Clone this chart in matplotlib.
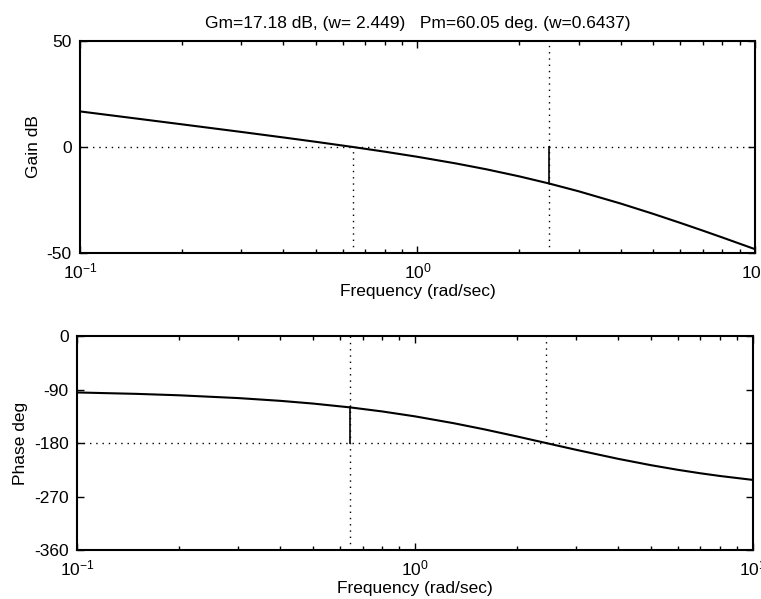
import matplotlib
matplotlib.use("Agg")
import matplotlib.pyplot as plt
from matplotlib.ticker import LogLocator, FixedLocator

#-------------------------------------------

freq = [0.1, 0.15, 0.2, 0.3, 0.4, 0.5, 0.6437, 0.8, 1.0, 1.3, 1.6, 2.0,
        2.449, 3.0, 4.0, 5.0, 6.0, 7.0, 8.0, 10.0]
gain_db = [16.78, 13.24, 10.71, 7.12, 4.51, 2.44, 0.0, -2.21, -4.63, -7.76,
           -10.52, -13.83, -17.18, -20.87, -26.67, -31.56, -35.76, -39.42,
           -42.66, -48.18]
phase_deg = [-94.77, -97.15, -99.52, -104.24, -108.90, -113.50, -119.95,
             -126.73, -135.0, -146.45, -156.73, -168.69, -180.0, -191.31,
             -206.57, -217.24, -225.0, -230.85, -235.40, -241.99]

gm_db = 17.18
gm_freq = 2.449
pm_deg = 60.05
pm_freq = 0.6437

gain_ticks = [-50, 0, 50]
phase_ticks = [-360, -270, -180, -90, 0]

titre = "Gm=17.18 dB, (w= 2.449)   Pm=60.05 deg. (w=0.6437)"

plt.rcParams['font.family'] = ['Liberation Sans', 'DejaVu Sans']
plt.rcParams['mathtext.fontset'] = 'custom'
plt.rcParams['mathtext.rm'] = 'Liberation Sans'
plt.rcParams['mathtext.it'] = 'Liberation Sans'
plt.rcParams['mathtext.default'] = 'regular'
plt.rcParams['axes.unicode_minus'] = False
plt.rcParams['font.size'] = 12.5

fig = plt.figure(figsize=(7.61, 5.99), dpi=100)
ax1 = fig.add_axes([0.1051, 0.5776, 0.887, 0.354])
ax2 = fig.add_axes([0.1012, 0.0818, 0.888, 0.357])

dot = (0, (1, 3.5))


def style_axes(ax, yticks):
    ax.set_xscale('log')
    ax.set_xlim(0.1, 10)
    ax.set_ylim(yticks[0], yticks[-1])
    ax.yaxis.set_major_locator(FixedLocator(yticks))
    ax.xaxis.set_major_locator(LogLocator(base=10))
    ax.xaxis.set_minor_locator(LogLocator(base=10, subs=range(2, 10)))
    ax.tick_params(which='both', direction='in', top=True, right=True,
                   labelsize=12.5, width=1)
    ax.tick_params(which='major', length=5)
    ax.tick_params(which='minor', length=3)
    ax.tick_params(axis='x', pad=6)
    ax.tick_params(axis='y', pad=6)
    for s in ax.spines.values():
        s.set_linewidth(1.5)
    ax.set_xlabel('Frequency (rad/sec)', fontsize=12.5, labelpad=2)


# Gain
ax1.plot(freq, gain_db, color='black', lw=1.5)
ax1.axhline(0, color='black', lw=1, ls=dot)
ax1.plot([gm_freq, gm_freq], [gain_ticks[0], gain_ticks[-1]], color='black', lw=1, ls=dot)
ax1.plot([gm_freq, gm_freq], [0, -gm_db], color='black', lw=1.2)
ax1.plot([pm_freq, pm_freq], [gain_ticks[0], 0], color='black', lw=1, ls=dot)
style_axes(ax1, gain_ticks)
ax1.set_ylabel('Gain dB', fontsize=12.5)
ax1.set_title(titre, fontsize=12.5, pad=9)

# Phase
ax2.plot(freq, phase_deg, color='black', lw=1.5)
ax2.axhline(-180, color='black', lw=1, ls=dot)
ax2.plot([pm_freq, pm_freq], [phase_ticks[0], phase_ticks[-1]], color='black', lw=1, ls=dot)
ax2.plot([pm_freq, pm_freq], [-180, -180 + pm_deg], color='black', lw=1.2)
ax2.plot([gm_freq, gm_freq], [-180, phase_ticks[-1]], color='black', lw=1, ls=dot)
style_axes(ax2, phase_ticks)
ax2.set_ylabel('Phase deg', fontsize=12.5)

fig.savefig('out.png', dpi=100)
